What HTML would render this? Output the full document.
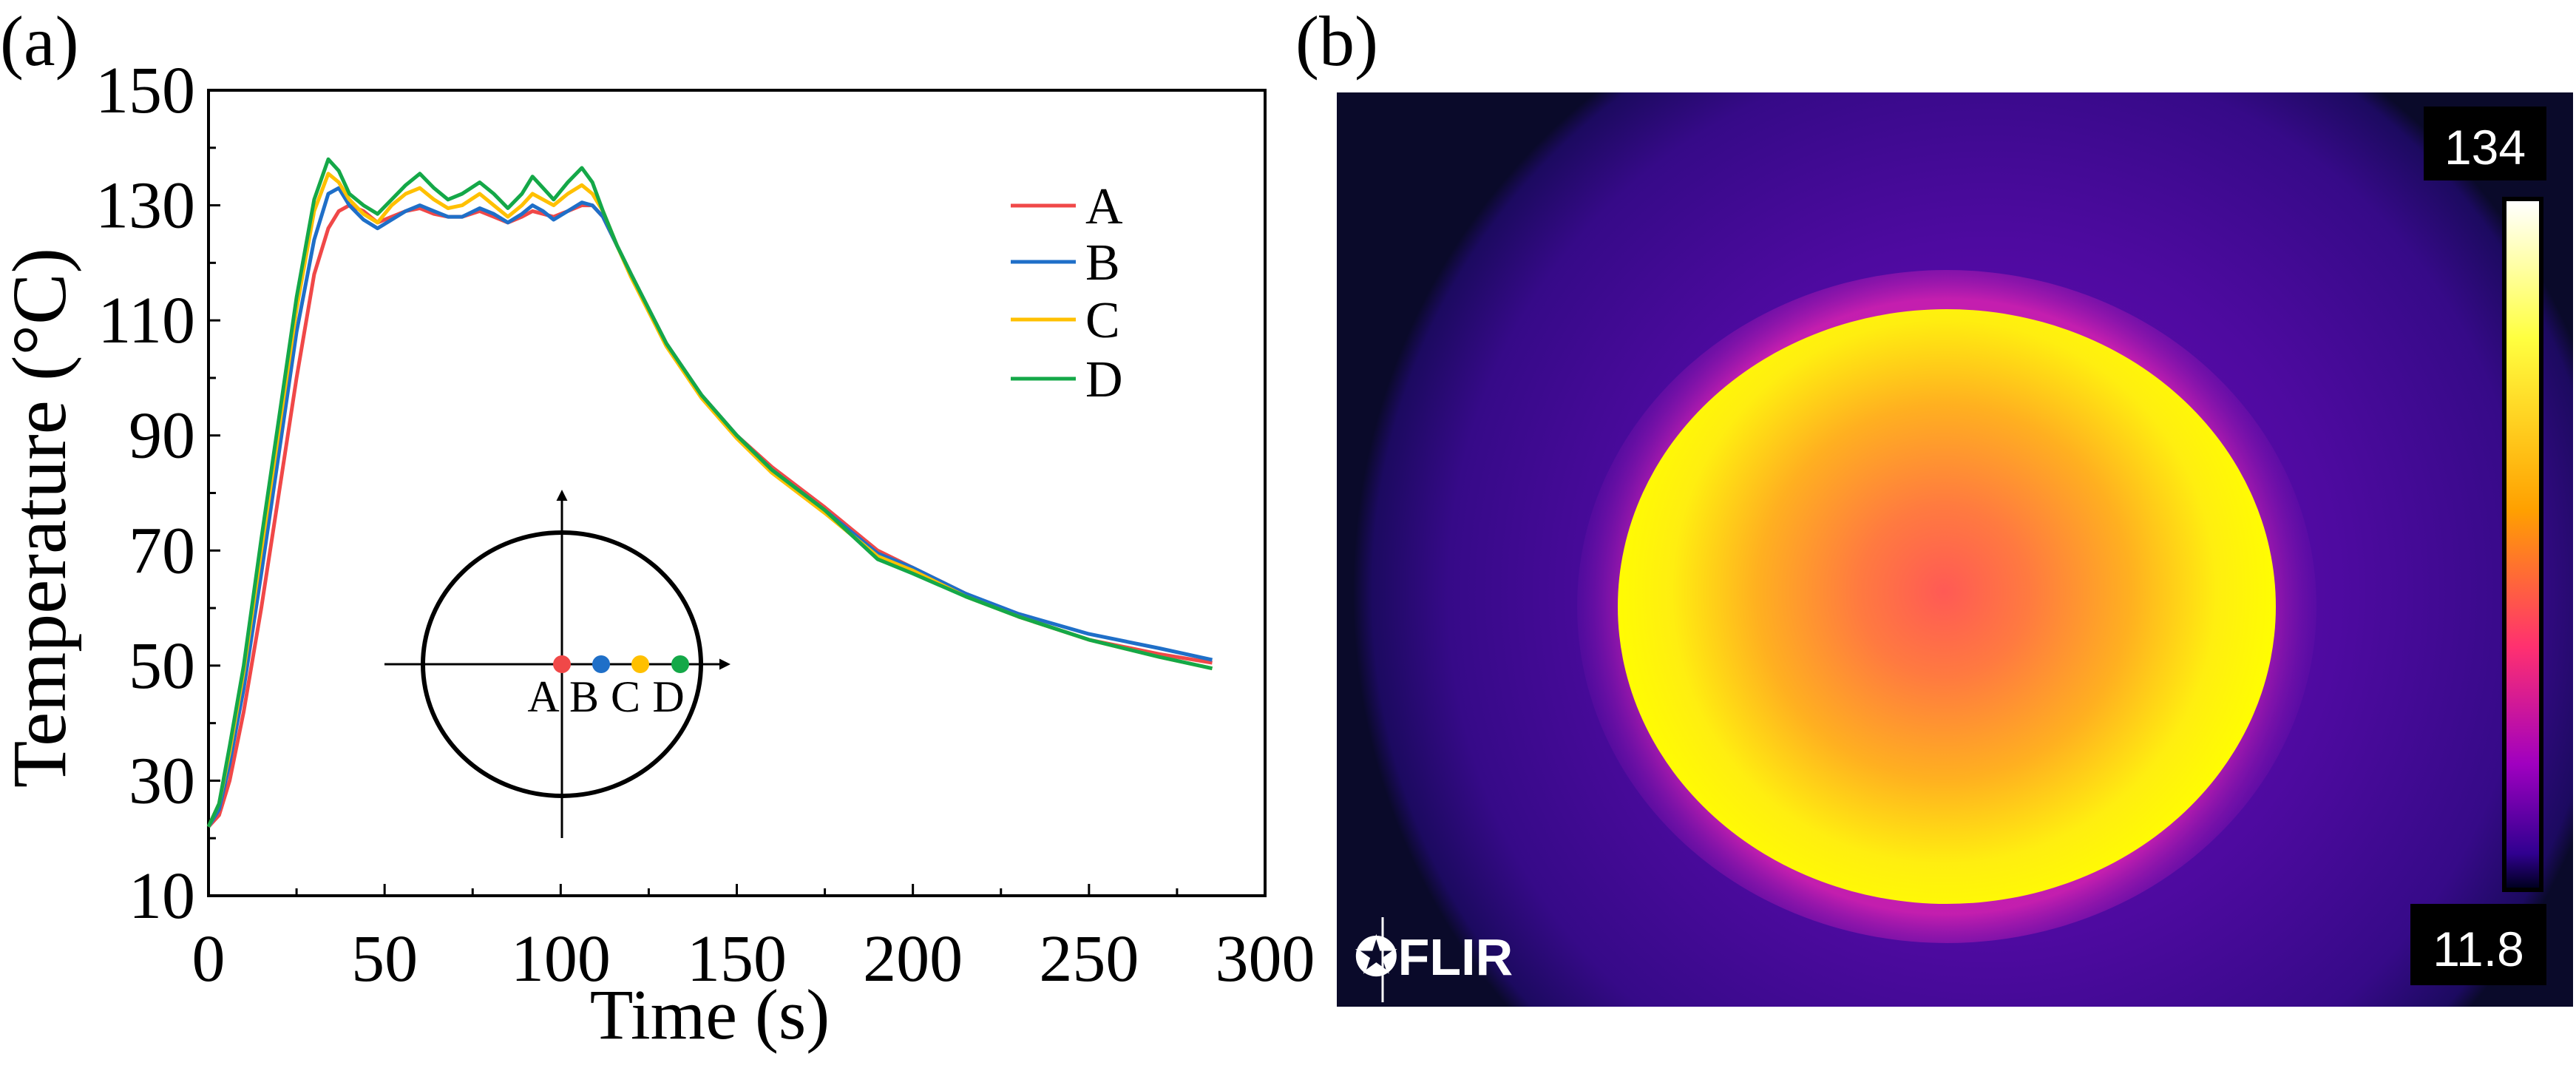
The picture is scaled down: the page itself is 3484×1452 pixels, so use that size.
<!DOCTYPE html>
<html><head><meta charset="utf-8">
<style>
html,body{margin:0;padding:0;background:#fff;}
body{width:3484px;height:1452px;overflow:hidden;position:relative;font-family:"Liberation Serif",serif;}
svg{position:absolute;left:0;top:0;}
</style></head>
<body>
<svg id="chart" width="3484" height="1452" viewBox="0 0 3484 1452">
<defs>
<radialGradient id="bgGrad" cx="2690" cy="800" r="860" gradientUnits="userSpaceOnUse">
<stop offset="0" stop-color="#7010b8"/>
<stop offset="0.55" stop-color="#4e0aa0"/>
<stop offset="0.85" stop-color="#360a88"/>
<stop offset="0.97" stop-color="#1c0a60"/>
<stop offset="1" stop-color="#0a0a2a"/>
</radialGradient>
<radialGradient id="hotGrad" cx="2629" cy="800" r="460" gradientUnits="userSpaceOnUse">
<stop offset="0" stop-color="#ff5a55"/>
<stop offset="0.25" stop-color="#ff7a40"/>
<stop offset="0.55" stop-color="#ffb020"/>
<stop offset="0.8" stop-color="#ffee10"/>
<stop offset="1" stop-color="#ffff00"/>
</radialGradient>
<radialGradient id="glow" cx="2633" cy="820" r="520" gradientUnits="userSpaceOnUse">
<stop offset="0.8" stop-color="#d020b0" stop-opacity="0.9"/>
<stop offset="1" stop-color="#6a0fb0" stop-opacity="0"/>
</radialGradient>
<linearGradient id="cbar" x1="0" y1="0" x2="0" y2="1">
<stop offset="0" stop-color="#ffffff"/>
<stop offset="0.2" stop-color="#ffff40"/>
<stop offset="0.45" stop-color="#ffa000"/>
<stop offset="0.65" stop-color="#ff3070"/>
<stop offset="0.82" stop-color="#a000c0"/>
<stop offset="0.95" stop-color="#300090"/>
<stop offset="1" stop-color="#000020"/>
</linearGradient>
<marker id="arr" viewBox="0 0 10 10" refX="8" refY="5" markerWidth="5" markerHeight="5" orient="auto"><path d="M0,0 L10,5 L0,10 z" fill="#000"/></marker>
</defs>

<text x="0" y="88" font-size="96">(a)</text>
<text x="1752" y="88" font-size="96">(b)</text>

<g id="axes"></g>
<g id="series"></g>

<text transform="translate(88,700) rotate(-90)" text-anchor="middle" font-size="104">Temperature (°C)</text>
<text x="960" y="1404" text-anchor="middle" font-size="96">Time (s)</text>

<g>
<line x1="1367" y1="278" x2="1455" y2="278" stroke="#f04848" stroke-width="5"/>
<text x="1468" y="302" font-size="70">A</text>
<line x1="1367" y1="354" x2="1455" y2="354" stroke="#1f6fc8" stroke-width="5"/>
<text x="1468" y="378" font-size="70">B</text>
<line x1="1367" y1="432" x2="1455" y2="432" stroke="#ffc000" stroke-width="5"/>
<text x="1468" y="456" font-size="70">C</text>
<line x1="1367" y1="512" x2="1455" y2="512" stroke="#14a848" stroke-width="5"/>
<text x="1468" y="536" font-size="70">D</text>
</g>

<g>
<ellipse cx="760" cy="898" rx="188" ry="178" fill="none" stroke="#000" stroke-width="6"/>
<line x1="760" y1="1133" x2="760" y2="665" stroke="#000" stroke-width="3" marker-end="url(#arr)"/>
<line x1="520" y1="898" x2="985" y2="898" stroke="#000" stroke-width="3" marker-end="url(#arr)"/>
<circle cx="760" cy="898" r="12" fill="#f04848"/>
<circle cx="813" cy="898" r="12" fill="#1f6fc8"/>
<circle cx="866" cy="898" r="12" fill="#ffc000"/>
<circle cx="920" cy="898" r="12" fill="#14a848"/>
<text x="735" y="962" font-size="60" text-anchor="middle">A</text>
<text x="790" y="962" font-size="60" text-anchor="middle">B</text>
<text x="846" y="962" font-size="60" text-anchor="middle">C</text>
<text x="904" y="962" font-size="60" text-anchor="middle">D</text>
</g>

<g>
<rect x="1808" y="125" width="1672" height="1236" fill="url(#bgGrad)"/>
<ellipse cx="2633" cy="820" rx="500" ry="455" fill="url(#glow)"/>
<ellipse cx="2633" cy="820" rx="445" ry="402" fill="url(#hotGrad)"/>
<rect x="3278" y="144" width="166" height="100" fill="#000"/>
<text x="3361" y="222" font-family="Liberation Sans,sans-serif" font-size="66" fill="#fff" text-anchor="middle">134</text>
<rect x="3384" y="266" width="56" height="940" fill="#000"/>
<rect x="3390" y="272" width="44" height="928" fill="url(#cbar)"/>
<rect x="3260" y="1222" width="184" height="110" fill="#000"/>
<text x="3352" y="1306" font-family="Liberation Sans,sans-serif" font-size="66" fill="#fff" text-anchor="middle">11.8</text>
<line x1="1870" y1="1240" x2="1870" y2="1355" stroke="#fff" stroke-width="3"/>
<text x="1832" y="1318" font-family="Liberation Sans,sans-serif" font-weight="bold" font-size="70" fill="#fff">✪FLIR</text>
</g>
</svg>
<script>
const times=[0,3,6,10,15,20,25,30,34,37,40,44,48,52,56,60,64,68,72,77,81,85,89,92,95,98,102,106,109,112,116,120,125,130,140,150,160,175,190,200,215,230,250,270,285];
const seriesA=[22,24,30,42,60,80,100,118,126,129,130,129,127,128,129,129.5,128.5,128,128,129,128,127,128,129,128.5,128,129,130,130,128,123,118,112,106,97,90,84.5,77.5,70,67,62.5,58.5,54.5,52,50.5];
const seriesB=[22,25,33,46,66,87,108,124,132,133,130,127.5,126,127.5,129,130,129,128,128,129.5,128.5,127,128.5,130,129,127.5,129,130.5,130,128,123,118,112,106,97,90,84,77,69.5,67,62.5,59,55.5,53,51];
const seriesC=[22,26,35,49,70,91,112,129,135.5,134,131,128.5,127,130,132,133,131,129.5,130,132,130,128,130,132,131,130,132,133.5,132,129,123,117.5,111.5,105.5,96.5,89.5,83.5,76.5,69,66.5,62,58.5,54.5,51.5,49.5];
const seriesD=[22,26,36,50,72,93,114,131,138,136,132,130,128.5,131,133.5,135.5,133,131,132,134,132,129.5,132,135,133,131,134,136.5,134,129,123,118,112,106,97,90,84,77,68.5,66,62,58.5,54.5,51.5,49.5];
const yTicks=[10,30,50,70,90,110,130,150];
const xTicks=[0,50,100,150,200,250,300];

const NS='http://www.w3.org/2000/svg';
const L=282,R=1711,T=122,B=1211;
function xs(v){return L+(v-0)/(300-0)*(R-L);}
function ys(v){return B-(v-10)/(150-10)*(B-T);}
function mk(tag,attrs,parent){const e=document.createElementNS(NS,tag);for(const k in attrs)e.setAttribute(k,attrs[k]);parent.appendChild(e);return e;}
const ax=document.getElementById('axes');
let f=mk('rect',{x:L,y:T,width:R-L,height:B-T,fill:'none',stroke:'#000','stroke-width':4},ax);


for(let v=10;v<=150;v+=10){
  const len=(v-10)%20===0?16:10;
  const t=mk('line',{x1:L,x2:L+len,y1:ys(v),y2:ys(v),stroke:'#000','stroke-width':3},ax);
  
  
}
for(let v=0;v<=300;v+=25){
  const len=v%50===0?16:10;
  const t=mk('line',{x1:xs(v),x2:xs(v),y1:B,y2:B-len,stroke:'#000','stroke-width':3},ax);
  
  
}
yTicks.forEach(v=>{
  const t=mk('text',{x:L-18,y:ys(v)+30,'text-anchor':'end','font-size':90},ax);
  t.textContent=v;
  
  
});
xTicks.forEach(v=>{
  const t=mk('text',{x:xs(v),y:1326,'text-anchor':'middle','font-size':90},ax);
  t.textContent=v;
  
  
});
const sg=document.getElementById('series');
[[seriesA,'#f04848','a'],[seriesB,'#1f6fc8','b'],[seriesC,'#ffc000','c'],[seriesD,'#14a848','d']].forEach(([vals,col,n])=>{
  const d=vals.map((v,i)=>(i?'L':'M')+xs(times[i]).toFixed(1)+','+ys(v).toFixed(1)).join(' ');
  const p=mk('path',{d:d,fill:'none',stroke:col,'stroke-width':5,'stroke-linejoin':'round'},sg);
  
  
});
</script>
</body></html>
